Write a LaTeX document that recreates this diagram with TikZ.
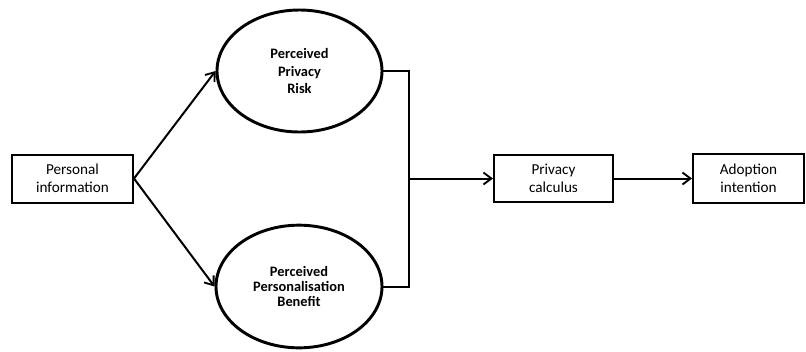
\documentclass[tikz,border=0pt]{standalone}
\usepackage{fontspec}
\setmainfont{Carlito}
\usetikzlibrary{shapes.geometric,arrows.meta}
\begin{document}
\begin{tikzpicture}[x=0.75pt,y=-0.75pt,
  box/.style={draw,line width=1.5pt,rectangle,inner sep=0pt,align=center,
    font=\fontsize{11.4pt}{13.5pt}\selectfont},
  oval/.style={draw,line width=2.2pt,ellipse,inner sep=0pt,align=center,
    font=\bfseries\fontsize{10.8pt}{13.2pt}\selectfont},
  conn/.style={line width=1.5pt},
  arr/.style={conn,-{Straight Barb[length=6pt,width=9pt,line width=1.4pt]}}]
\fill[white] (0,0) rectangle (806,351);
\useasboundingbox (0,0) rectangle (806,351);
\node[box,minimum width=90.75pt,minimum height=36pt] (pi) at (72.5,178.5) {Personal\\information};
\node[oval,minimum width=123.75pt,minimum height=91.5pt] (ppr) at (299.5,71) {Perceived\\Privacy\\Risk};
\node[oval,minimum width=124.5pt,minimum height=92pt,
  font=\bfseries\fontsize{10.8pt}{11.5pt}\selectfont] (ppb) at (299,286.5) {Perceived\\Personalisation\\Benefit};
\node[box,minimum width=89.25pt,minimum height=35.25pt] (pc) at (553.5,178.5) {Privacy\\calculus};
\node[box,minimum width=83.25pt,minimum height=36.75pt] (ai) at (748.5,178.5) {Adoption\\intention};
\coordinate (j) at (409,178.5);
\draw[arr] (pi.east) -- (ppr.west);
\draw[arr] (pi.east) -- (ppb.west);
\draw[conn] (ppr.east) -| (j);
\draw[conn] (ppb.east) -| (j);
\draw[arr] (j) -- (pc.west);
\draw[arr] (pc.east) -- (ai.west);
\end{tikzpicture}
\end{document}
